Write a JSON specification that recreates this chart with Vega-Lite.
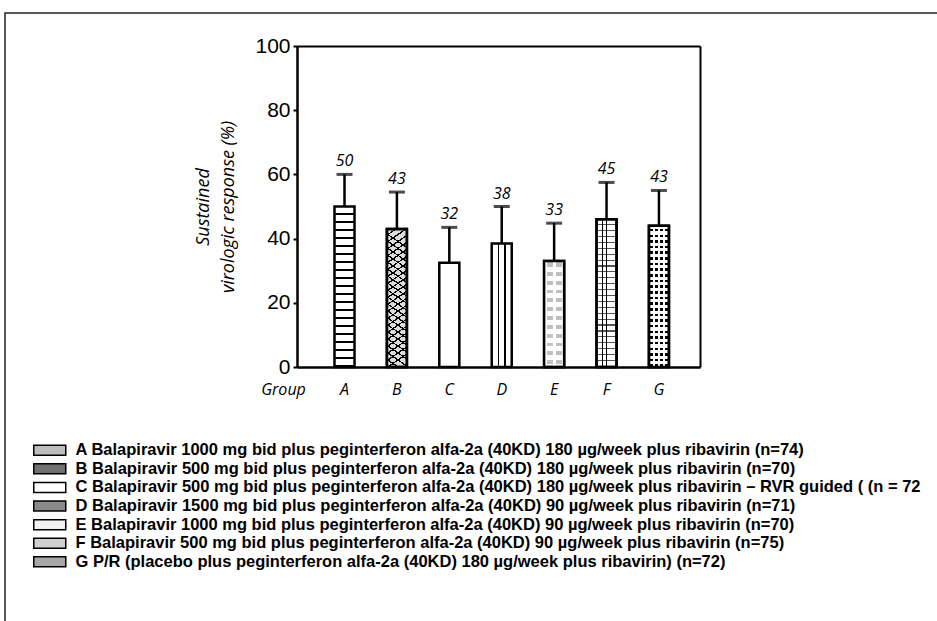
{
  "$schema": "https://vega.github.io/schema/vega-lite/v6.json",
  "width": 940,
  "height": 620,
  "autosize": "none",
  "padding": {"left": 5, "top": 13, "right": 0, "bottom": 0},
  "background": "white",
  "config": {
    "view": {"stroke": "#222222", "strokeWidth": 1.5},
    "axis": {"grid": false}
  },
  "data": {
    "values": [
      {"group": "A", "svr": 50, "bar": 50, "upper": 60, "legend": "A Balapiravir 1000 mg bid plus peginterferon alfa-2a (40KD) 180 µg/week plus ribavirin (n=74)"},
      {"group": "B", "svr": 43, "bar": 43, "upper": 54.5, "legend": "B Balapiravir 500 mg bid plus peginterferon alfa-2a (40KD) 180 µg/week plus ribavirin (n=70)"},
      {"group": "C", "svr": 32, "bar": 32.5, "upper": 43.5, "legend": "C Balapiravir 500 mg bid plus peginterferon alfa-2a (40KD) 180 µg/week plus ribavirin – RVR guided ( (n = 72"},
      {"group": "D", "svr": 38, "bar": 38.5, "upper": 50, "legend": "D Balapiravir 1500 mg bid plus peginterferon alfa-2a (40KD) 90 µg/week plus ribavirin (n=71)"},
      {"group": "E", "svr": 33, "bar": 33, "upper": 44.8, "legend": "E Balapiravir 1000 mg bid plus peginterferon alfa-2a (40KD) 90 µg/week plus ribavirin (n=70)"},
      {"group": "F", "svr": 45, "bar": 46, "upper": 57.5, "legend": "F Balapiravir 500 mg bid plus peginterferon alfa-2a (40KD) 90 µg/week plus ribavirin (n=75)"},
      {"group": "G", "svr": 43, "bar": 44, "upper": 55, "legend": "G P/R (placebo plus peginterferon alfa-2a (40KD) 180 µg/week plus ribavirin) (n=72)"}
    ]
  },
  "layer": [
    {
      "mark": {"type": "bar", "stroke": "black", "strokeWidth": 2.5},
      "encoding": {
        "x": {
          "field": "group", "type": "nominal", "sort": null,
          "scale": {"domain": ["A", "B", "C", "D", "E", "F", "G"], "range": [292, 695], "paddingInner": 0.618, "paddingOuter": 0.654, "align": 0.547, "round": false},
          "axis": {"orient": "bottom", "offset": -266, "domainColor": "black", "domainWidth": 2.5, "ticks": false, "labelAngle": 0, "labelFont": "Open Sans", "labelFontStyle": "italic", "labelFontSize": 16, "labelColor": "black", "labelBaseline": "alphabetic", "labelPadding": 27, "title": "Group", "titleFont": "Open Sans", "titleFontStyle": "italic", "titleFontWeight": "normal", "titleFontSize": 16, "titleX": 278, "titleY": 27, "titleAlign": "center", "titleBaseline": "alphabetic", "titleColor": "black"}
        },
        "y": {
          "field": "bar", "type": "quantitative",
          "scale": {"domain": [0, 100], "range": [354, 33], "nice": false, "zero": true},
          "axis": {"orient": "left", "offset": -292, "values": [0, 20, 40, 60, 80, 100], "grid": false, "domainColor": "black", "domainWidth": 2.5, "tickColor": "black", "tickWidth": 2, "tickSize": 4, "labelPadding": 3, "labelFont": "Liberation Sans", "labelFontSize": 21, "labelColor": "black", "title": ["Sustained", "virologic response (%)"], "titleFont": "Open Sans", "titleFontStyle": "italic", "titleFontWeight": "normal", "titleFontSize": 18, "titleLineHeight": 25, "titlePadding": 17, "titleColor": "black"}
        },
        "fill": {
          "field": "legend", "type": "nominal", "sort": null,
          "scale": {"range": ["#bdbdbd", "#707070", "#ffffff", "#8a8a8a", "#f2f2f2", "#cfcfcf", "#a8a8a8"]},
          "legend": {
            "orient": "none", "legendX": 36.5, "legendY": 429, "direction": "vertical", "title": null,
            "symbolType": "M-4,-1.25H4V1.25H-4Z", "symbolSize": 64, "symbolOpacity": 1,
            "labelFont": "Liberation Sans", "labelFontSize": 16.5, "labelFontWeight": "bold", "labelColor": "black", "labelLimit": 1000, "labelOffset": 17.5, "rowPadding": 1.6,
            "encode": {
              "symbols": {
                "update": {
                  "stroke": {"value": "black"},
                  "strokeWidth": {"value": 1.5}
                }
              }
            }
          },
          "condition": [
            {"test": "datum.group === 'A'", "value": {"gradient": "linear", "x1": 0, "y1": 0, "x2": 0, "y2": 1, "stops": [
              {"offset": 0, "color": "#ffffff"}, {"offset": 0.039, "color": "#ffffff"}, {"offset": 0.039, "color": "#000000"}, {"offset": 0.05, "color": "#000000"},
              {"offset": 0.05, "color": "#ffffff"}, {"offset": 0.089, "color": "#ffffff"}, {"offset": 0.089, "color": "#000000"}, {"offset": 0.1, "color": "#000000"},
              {"offset": 0.1, "color": "#ffffff"}, {"offset": 0.139, "color": "#ffffff"}, {"offset": 0.139, "color": "#000000"}, {"offset": 0.15, "color": "#000000"},
              {"offset": 0.15, "color": "#ffffff"}, {"offset": 0.189, "color": "#ffffff"}, {"offset": 0.189, "color": "#000000"}, {"offset": 0.2, "color": "#000000"},
              {"offset": 0.2, "color": "#ffffff"}, {"offset": 0.239, "color": "#ffffff"}, {"offset": 0.239, "color": "#000000"}, {"offset": 0.25, "color": "#000000"},
              {"offset": 0.25, "color": "#ffffff"}, {"offset": 0.289, "color": "#ffffff"}, {"offset": 0.289, "color": "#000000"}, {"offset": 0.3, "color": "#000000"},
              {"offset": 0.3, "color": "#ffffff"}, {"offset": 0.339, "color": "#ffffff"}, {"offset": 0.339, "color": "#000000"}, {"offset": 0.35, "color": "#000000"},
              {"offset": 0.35, "color": "#ffffff"}, {"offset": 0.389, "color": "#ffffff"}, {"offset": 0.389, "color": "#000000"}, {"offset": 0.4, "color": "#000000"},
              {"offset": 0.4, "color": "#ffffff"}, {"offset": 0.439, "color": "#ffffff"}, {"offset": 0.439, "color": "#000000"}, {"offset": 0.45, "color": "#000000"},
              {"offset": 0.45, "color": "#ffffff"}, {"offset": 0.489, "color": "#ffffff"}, {"offset": 0.489, "color": "#000000"}, {"offset": 0.5, "color": "#000000"},
              {"offset": 0.5, "color": "#ffffff"}, {"offset": 0.539, "color": "#ffffff"}, {"offset": 0.539, "color": "#000000"}, {"offset": 0.55, "color": "#000000"},
              {"offset": 0.55, "color": "#ffffff"}, {"offset": 0.589, "color": "#ffffff"}, {"offset": 0.589, "color": "#000000"}, {"offset": 0.6, "color": "#000000"},
              {"offset": 0.6, "color": "#ffffff"}, {"offset": 0.639, "color": "#ffffff"}, {"offset": 0.639, "color": "#000000"}, {"offset": 0.65, "color": "#000000"},
              {"offset": 0.65, "color": "#ffffff"}, {"offset": 0.689, "color": "#ffffff"}, {"offset": 0.689, "color": "#000000"}, {"offset": 0.7, "color": "#000000"},
              {"offset": 0.7, "color": "#ffffff"}, {"offset": 0.739, "color": "#ffffff"}, {"offset": 0.739, "color": "#000000"}, {"offset": 0.75, "color": "#000000"},
              {"offset": 0.75, "color": "#ffffff"}, {"offset": 0.789, "color": "#ffffff"}, {"offset": 0.789, "color": "#000000"}, {"offset": 0.8, "color": "#000000"},
              {"offset": 0.8, "color": "#ffffff"}, {"offset": 0.839, "color": "#ffffff"}, {"offset": 0.839, "color": "#000000"}, {"offset": 0.85, "color": "#000000"},
              {"offset": 0.85, "color": "#ffffff"}, {"offset": 0.889, "color": "#ffffff"}, {"offset": 0.889, "color": "#000000"}, {"offset": 0.9, "color": "#000000"},
              {"offset": 0.9, "color": "#ffffff"}, {"offset": 0.939, "color": "#ffffff"}, {"offset": 0.939, "color": "#000000"}, {"offset": 0.95, "color": "#000000"},
              {"offset": 0.95, "color": "#ffffff"}, {"offset": 0.989, "color": "#ffffff"}, {"offset": 0.989, "color": "#000000"}, {"offset": 1, "color": "#000000"}]}},
            {"test": "datum.group === 'B'", "value": {"gradient": "linear", "x1": 0, "y1": 0, "x2": 0.1, "y2": 1, "stops": [
              {"offset": 0, "color": "#dcdcdc"}, {"offset": 0.039, "color": "#dcdcdc"}, {"offset": 0.039, "color": "#000000"}, {"offset": 0.05, "color": "#000000"},
              {"offset": 0.05, "color": "#dcdcdc"}, {"offset": 0.089, "color": "#dcdcdc"}, {"offset": 0.089, "color": "#000000"}, {"offset": 0.1, "color": "#000000"},
              {"offset": 0.1, "color": "#dcdcdc"}, {"offset": 0.139, "color": "#dcdcdc"}, {"offset": 0.139, "color": "#000000"}, {"offset": 0.15, "color": "#000000"},
              {"offset": 0.15, "color": "#dcdcdc"}, {"offset": 0.189, "color": "#dcdcdc"}, {"offset": 0.189, "color": "#000000"}, {"offset": 0.2, "color": "#000000"},
              {"offset": 0.2, "color": "#dcdcdc"}, {"offset": 0.239, "color": "#dcdcdc"}, {"offset": 0.239, "color": "#000000"}, {"offset": 0.25, "color": "#000000"},
              {"offset": 0.25, "color": "#dcdcdc"}, {"offset": 0.289, "color": "#dcdcdc"}, {"offset": 0.289, "color": "#000000"}, {"offset": 0.3, "color": "#000000"},
              {"offset": 0.3, "color": "#dcdcdc"}, {"offset": 0.339, "color": "#dcdcdc"}, {"offset": 0.339, "color": "#000000"}, {"offset": 0.35, "color": "#000000"},
              {"offset": 0.35, "color": "#dcdcdc"}, {"offset": 0.389, "color": "#dcdcdc"}, {"offset": 0.389, "color": "#000000"}, {"offset": 0.4, "color": "#000000"},
              {"offset": 0.4, "color": "#dcdcdc"}, {"offset": 0.439, "color": "#dcdcdc"}, {"offset": 0.439, "color": "#000000"}, {"offset": 0.45, "color": "#000000"},
              {"offset": 0.45, "color": "#dcdcdc"}, {"offset": 0.489, "color": "#dcdcdc"}, {"offset": 0.489, "color": "#000000"}, {"offset": 0.5, "color": "#000000"},
              {"offset": 0.5, "color": "#dcdcdc"}, {"offset": 0.539, "color": "#dcdcdc"}, {"offset": 0.539, "color": "#000000"}, {"offset": 0.55, "color": "#000000"},
              {"offset": 0.55, "color": "#dcdcdc"}, {"offset": 0.589, "color": "#dcdcdc"}, {"offset": 0.589, "color": "#000000"}, {"offset": 0.6, "color": "#000000"},
              {"offset": 0.6, "color": "#dcdcdc"}, {"offset": 0.639, "color": "#dcdcdc"}, {"offset": 0.639, "color": "#000000"}, {"offset": 0.65, "color": "#000000"},
              {"offset": 0.65, "color": "#dcdcdc"}, {"offset": 0.689, "color": "#dcdcdc"}, {"offset": 0.689, "color": "#000000"}, {"offset": 0.7, "color": "#000000"},
              {"offset": 0.7, "color": "#dcdcdc"}, {"offset": 0.739, "color": "#dcdcdc"}, {"offset": 0.739, "color": "#000000"}, {"offset": 0.75, "color": "#000000"},
              {"offset": 0.75, "color": "#dcdcdc"}, {"offset": 0.789, "color": "#dcdcdc"}, {"offset": 0.789, "color": "#000000"}, {"offset": 0.8, "color": "#000000"},
              {"offset": 0.8, "color": "#dcdcdc"}, {"offset": 0.839, "color": "#dcdcdc"}, {"offset": 0.839, "color": "#000000"}, {"offset": 0.85, "color": "#000000"},
              {"offset": 0.85, "color": "#dcdcdc"}, {"offset": 0.889, "color": "#dcdcdc"}, {"offset": 0.889, "color": "#000000"}, {"offset": 0.9, "color": "#000000"},
              {"offset": 0.9, "color": "#dcdcdc"}, {"offset": 0.939, "color": "#dcdcdc"}, {"offset": 0.939, "color": "#000000"}, {"offset": 0.95, "color": "#000000"},
              {"offset": 0.95, "color": "#dcdcdc"}, {"offset": 0.989, "color": "#dcdcdc"}, {"offset": 0.989, "color": "#000000"}, {"offset": 1, "color": "#000000"},
              {"offset": 1, "color": "#dcdcdc"}]}},
            {"test": "datum.group === 'C'", "value": "#ffffff"},
            {"test": "datum.group === 'D'", "value": {"gradient": "linear", "x1": 0, "y1": 0, "x2": 1, "y2": 0, "stops": [
              {"offset": 0, "color": "#ffffff"}, {"offset": 0.31, "color": "#ffffff"}, {"offset": 0.31, "color": "#000000"}, {"offset": 0.37, "color": "#000000"},
              {"offset": 0.37, "color": "#ffffff"}, {"offset": 0.63, "color": "#ffffff"}, {"offset": 0.63, "color": "#000000"}, {"offset": 0.69, "color": "#000000"},
              {"offset": 0.69, "color": "#ffffff"}, {"offset": 1, "color": "#ffffff"}]}},
            {"test": "datum.group === 'E'", "value": {"gradient": "linear", "x1": 0, "y1": 0, "x2": 0, "y2": 1, "stops": [
              {"offset": 0, "color": "#ffffff"}, {"offset": 0.02, "color": "#ffffff"}, {"offset": 0.02, "color": "#c0c0c0"}, {"offset": 0.055, "color": "#c0c0c0"},
              {"offset": 0.055, "color": "#ffffff"}, {"offset": 0.1033, "color": "#ffffff"}, {"offset": 0.1033, "color": "#c0c0c0"}, {"offset": 0.1383, "color": "#c0c0c0"},
              {"offset": 0.1383, "color": "#ffffff"}, {"offset": 0.1867, "color": "#ffffff"}, {"offset": 0.1867, "color": "#c0c0c0"}, {"offset": 0.2217, "color": "#c0c0c0"},
              {"offset": 0.2217, "color": "#ffffff"}, {"offset": 0.27, "color": "#ffffff"}, {"offset": 0.27, "color": "#c0c0c0"}, {"offset": 0.305, "color": "#c0c0c0"},
              {"offset": 0.305, "color": "#ffffff"}, {"offset": 0.3533, "color": "#ffffff"}, {"offset": 0.3533, "color": "#c0c0c0"}, {"offset": 0.3883, "color": "#c0c0c0"},
              {"offset": 0.3883, "color": "#ffffff"}, {"offset": 0.4367, "color": "#ffffff"}, {"offset": 0.4367, "color": "#c0c0c0"}, {"offset": 0.4717, "color": "#c0c0c0"},
              {"offset": 0.4717, "color": "#ffffff"}, {"offset": 0.52, "color": "#ffffff"}, {"offset": 0.52, "color": "#c0c0c0"}, {"offset": 0.555, "color": "#c0c0c0"},
              {"offset": 0.555, "color": "#ffffff"}, {"offset": 0.6033, "color": "#ffffff"}, {"offset": 0.6033, "color": "#c0c0c0"}, {"offset": 0.6383, "color": "#c0c0c0"},
              {"offset": 0.6383, "color": "#ffffff"}, {"offset": 0.6867, "color": "#ffffff"}, {"offset": 0.6867, "color": "#c0c0c0"}, {"offset": 0.7217, "color": "#c0c0c0"},
              {"offset": 0.7217, "color": "#ffffff"}, {"offset": 0.77, "color": "#ffffff"}, {"offset": 0.77, "color": "#c0c0c0"}, {"offset": 0.805, "color": "#c0c0c0"},
              {"offset": 0.805, "color": "#ffffff"}, {"offset": 0.8533, "color": "#ffffff"}, {"offset": 0.8533, "color": "#c0c0c0"}, {"offset": 0.8883, "color": "#c0c0c0"},
              {"offset": 0.8883, "color": "#ffffff"}, {"offset": 0.9367, "color": "#ffffff"}, {"offset": 0.9367, "color": "#c0c0c0"}, {"offset": 0.9717, "color": "#c0c0c0"},
              {"offset": 0.9717, "color": "#ffffff"}, {"offset": 1, "color": "#ffffff"}]}},
            {"test": "datum.group === 'F'", "value": {"gradient": "linear", "x1": 0, "y1": 0, "x2": 0, "y2": 1, "stops": [
              {"offset": 0, "color": "#ffffff"}, {"offset": 0.032, "color": "#ffffff"}, {"offset": 0.032, "color": "#555555"}, {"offset": 0.04, "color": "#555555"},
              {"offset": 0.04, "color": "#ffffff"}, {"offset": 0.072, "color": "#ffffff"}, {"offset": 0.072, "color": "#555555"}, {"offset": 0.08, "color": "#555555"},
              {"offset": 0.08, "color": "#ffffff"}, {"offset": 0.112, "color": "#ffffff"}, {"offset": 0.112, "color": "#555555"}, {"offset": 0.12, "color": "#555555"},
              {"offset": 0.12, "color": "#ffffff"}, {"offset": 0.152, "color": "#ffffff"}, {"offset": 0.152, "color": "#555555"}, {"offset": 0.16, "color": "#555555"},
              {"offset": 0.16, "color": "#ffffff"}, {"offset": 0.192, "color": "#ffffff"}, {"offset": 0.192, "color": "#555555"}, {"offset": 0.2, "color": "#555555"},
              {"offset": 0.2, "color": "#ffffff"}, {"offset": 0.232, "color": "#ffffff"}, {"offset": 0.232, "color": "#555555"}, {"offset": 0.24, "color": "#555555"},
              {"offset": 0.24, "color": "#ffffff"}, {"offset": 0.272, "color": "#ffffff"}, {"offset": 0.272, "color": "#555555"}, {"offset": 0.28, "color": "#555555"},
              {"offset": 0.28, "color": "#ffffff"}, {"offset": 0.312, "color": "#ffffff"}, {"offset": 0.312, "color": "#555555"}, {"offset": 0.32, "color": "#555555"},
              {"offset": 0.32, "color": "#ffffff"}, {"offset": 0.352, "color": "#ffffff"}, {"offset": 0.352, "color": "#555555"}, {"offset": 0.36, "color": "#555555"},
              {"offset": 0.36, "color": "#ffffff"}, {"offset": 0.392, "color": "#ffffff"}, {"offset": 0.392, "color": "#555555"}, {"offset": 0.4, "color": "#555555"},
              {"offset": 0.4, "color": "#ffffff"}, {"offset": 0.432, "color": "#ffffff"}, {"offset": 0.432, "color": "#555555"}, {"offset": 0.44, "color": "#555555"},
              {"offset": 0.44, "color": "#ffffff"}, {"offset": 0.472, "color": "#ffffff"}, {"offset": 0.472, "color": "#555555"}, {"offset": 0.48, "color": "#555555"},
              {"offset": 0.48, "color": "#ffffff"}, {"offset": 0.512, "color": "#ffffff"}, {"offset": 0.512, "color": "#555555"}, {"offset": 0.52, "color": "#555555"},
              {"offset": 0.52, "color": "#ffffff"}, {"offset": 0.552, "color": "#ffffff"}, {"offset": 0.552, "color": "#555555"}, {"offset": 0.56, "color": "#555555"},
              {"offset": 0.56, "color": "#ffffff"}, {"offset": 0.592, "color": "#ffffff"}, {"offset": 0.592, "color": "#555555"}, {"offset": 0.6, "color": "#555555"},
              {"offset": 0.6, "color": "#ffffff"}, {"offset": 0.632, "color": "#ffffff"}, {"offset": 0.632, "color": "#555555"}, {"offset": 0.64, "color": "#555555"},
              {"offset": 0.64, "color": "#ffffff"}, {"offset": 0.672, "color": "#ffffff"}, {"offset": 0.672, "color": "#555555"}, {"offset": 0.68, "color": "#555555"},
              {"offset": 0.68, "color": "#ffffff"}, {"offset": 0.712, "color": "#ffffff"}, {"offset": 0.712, "color": "#555555"}, {"offset": 0.72, "color": "#555555"},
              {"offset": 0.72, "color": "#ffffff"}, {"offset": 0.752, "color": "#ffffff"}, {"offset": 0.752, "color": "#555555"}, {"offset": 0.76, "color": "#555555"},
              {"offset": 0.76, "color": "#ffffff"}, {"offset": 0.792, "color": "#ffffff"}, {"offset": 0.792, "color": "#555555"}, {"offset": 0.8, "color": "#555555"},
              {"offset": 0.8, "color": "#ffffff"}, {"offset": 0.832, "color": "#ffffff"}, {"offset": 0.832, "color": "#555555"}, {"offset": 0.84, "color": "#555555"},
              {"offset": 0.84, "color": "#ffffff"}, {"offset": 0.872, "color": "#ffffff"}, {"offset": 0.872, "color": "#555555"}, {"offset": 0.88, "color": "#555555"},
              {"offset": 0.88, "color": "#ffffff"}, {"offset": 0.912, "color": "#ffffff"}, {"offset": 0.912, "color": "#555555"}, {"offset": 0.92, "color": "#555555"},
              {"offset": 0.92, "color": "#ffffff"}, {"offset": 0.952, "color": "#ffffff"}, {"offset": 0.952, "color": "#555555"}, {"offset": 0.96, "color": "#555555"},
              {"offset": 0.96, "color": "#ffffff"}, {"offset": 0.992, "color": "#ffffff"}, {"offset": 0.992, "color": "#555555"}, {"offset": 1, "color": "#555555"}]}},
            {"test": "datum.group === 'G'", "value": {"gradient": "linear", "x1": 0, "y1": 0, "x2": 0, "y2": 1, "stops": [
              {"offset": 0, "color": "#ffffff"}, {"offset": 0.022, "color": "#ffffff"}, {"offset": 0.022, "color": "#000000"}, {"offset": 0.04, "color": "#000000"},
              {"offset": 0.04, "color": "#ffffff"}, {"offset": 0.062, "color": "#ffffff"}, {"offset": 0.062, "color": "#000000"}, {"offset": 0.08, "color": "#000000"},
              {"offset": 0.08, "color": "#ffffff"}, {"offset": 0.102, "color": "#ffffff"}, {"offset": 0.102, "color": "#000000"}, {"offset": 0.12, "color": "#000000"},
              {"offset": 0.12, "color": "#ffffff"}, {"offset": 0.142, "color": "#ffffff"}, {"offset": 0.142, "color": "#000000"}, {"offset": 0.16, "color": "#000000"},
              {"offset": 0.16, "color": "#ffffff"}, {"offset": 0.182, "color": "#ffffff"}, {"offset": 0.182, "color": "#000000"}, {"offset": 0.2, "color": "#000000"},
              {"offset": 0.2, "color": "#ffffff"}, {"offset": 0.222, "color": "#ffffff"}, {"offset": 0.222, "color": "#000000"}, {"offset": 0.24, "color": "#000000"},
              {"offset": 0.24, "color": "#ffffff"}, {"offset": 0.262, "color": "#ffffff"}, {"offset": 0.262, "color": "#000000"}, {"offset": 0.28, "color": "#000000"},
              {"offset": 0.28, "color": "#ffffff"}, {"offset": 0.302, "color": "#ffffff"}, {"offset": 0.302, "color": "#000000"}, {"offset": 0.32, "color": "#000000"},
              {"offset": 0.32, "color": "#ffffff"}, {"offset": 0.342, "color": "#ffffff"}, {"offset": 0.342, "color": "#000000"}, {"offset": 0.36, "color": "#000000"},
              {"offset": 0.36, "color": "#ffffff"}, {"offset": 0.382, "color": "#ffffff"}, {"offset": 0.382, "color": "#000000"}, {"offset": 0.4, "color": "#000000"},
              {"offset": 0.4, "color": "#ffffff"}, {"offset": 0.422, "color": "#ffffff"}, {"offset": 0.422, "color": "#000000"}, {"offset": 0.44, "color": "#000000"},
              {"offset": 0.44, "color": "#ffffff"}, {"offset": 0.462, "color": "#ffffff"}, {"offset": 0.462, "color": "#000000"}, {"offset": 0.48, "color": "#000000"},
              {"offset": 0.48, "color": "#ffffff"}, {"offset": 0.502, "color": "#ffffff"}, {"offset": 0.502, "color": "#000000"}, {"offset": 0.52, "color": "#000000"},
              {"offset": 0.52, "color": "#ffffff"}, {"offset": 0.542, "color": "#ffffff"}, {"offset": 0.542, "color": "#000000"}, {"offset": 0.56, "color": "#000000"},
              {"offset": 0.56, "color": "#ffffff"}, {"offset": 0.582, "color": "#ffffff"}, {"offset": 0.582, "color": "#000000"}, {"offset": 0.6, "color": "#000000"},
              {"offset": 0.6, "color": "#ffffff"}, {"offset": 0.622, "color": "#ffffff"}, {"offset": 0.622, "color": "#000000"}, {"offset": 0.64, "color": "#000000"},
              {"offset": 0.64, "color": "#ffffff"}, {"offset": 0.662, "color": "#ffffff"}, {"offset": 0.662, "color": "#000000"}, {"offset": 0.68, "color": "#000000"},
              {"offset": 0.68, "color": "#ffffff"}, {"offset": 0.702, "color": "#ffffff"}, {"offset": 0.702, "color": "#000000"}, {"offset": 0.72, "color": "#000000"},
              {"offset": 0.72, "color": "#ffffff"}, {"offset": 0.742, "color": "#ffffff"}, {"offset": 0.742, "color": "#000000"}, {"offset": 0.76, "color": "#000000"},
              {"offset": 0.76, "color": "#ffffff"}, {"offset": 0.782, "color": "#ffffff"}, {"offset": 0.782, "color": "#000000"}, {"offset": 0.8, "color": "#000000"},
              {"offset": 0.8, "color": "#ffffff"}, {"offset": 0.822, "color": "#ffffff"}, {"offset": 0.822, "color": "#000000"}, {"offset": 0.84, "color": "#000000"},
              {"offset": 0.84, "color": "#ffffff"}, {"offset": 0.862, "color": "#ffffff"}, {"offset": 0.862, "color": "#000000"}, {"offset": 0.88, "color": "#000000"},
              {"offset": 0.88, "color": "#ffffff"}, {"offset": 0.902, "color": "#ffffff"}, {"offset": 0.902, "color": "#000000"}, {"offset": 0.92, "color": "#000000"},
              {"offset": 0.92, "color": "#ffffff"}, {"offset": 0.942, "color": "#ffffff"}, {"offset": 0.942, "color": "#000000"}, {"offset": 0.96, "color": "#000000"},
              {"offset": 0.96, "color": "#ffffff"}, {"offset": 0.982, "color": "#ffffff"}, {"offset": 0.982, "color": "#000000"}, {"offset": 1, "color": "#000000"}]}}
          ]
        }
      }
    },
    {
      "transform": [{"filter": "indexof(['B', 'E', 'F', 'G'], datum.group) >= 0"}],
      "mark": {"type": "bar", "stroke": "black", "strokeWidth": 2.5},
      "encoding": {
        "x": {"field": "group", "type": "nominal", "sort": null, "axis": {"orient": "top", "offset": -33, "labels": false, "ticks": false, "title": null, "domainColor": "black", "domainWidth": 2}},
        "y": {"field": "bar", "type": "quantitative", "axis": {"orient": "right", "offset": -245, "labels": false, "ticks": false, "grid": false, "title": null, "domainColor": "black", "domainWidth": 2}},
        "fill": {
          "condition": [
            {"test": "datum.group === 'B'", "value": {"gradient": "linear", "x1": 0.1, "y1": 0, "x2": 0, "y2": 1, "stops": [
              {"offset": 0, "color": "rgba(255,255,255,0)"}, {"offset": 0.039, "color": "rgba(255,255,255,0)"}, {"offset": 0.039, "color": "#000000"}, {"offset": 0.05, "color": "#000000"},
              {"offset": 0.05, "color": "rgba(255,255,255,0)"}, {"offset": 0.089, "color": "rgba(255,255,255,0)"}, {"offset": 0.089, "color": "#000000"}, {"offset": 0.1, "color": "#000000"},
              {"offset": 0.1, "color": "rgba(255,255,255,0)"}, {"offset": 0.139, "color": "rgba(255,255,255,0)"}, {"offset": 0.139, "color": "#000000"}, {"offset": 0.15, "color": "#000000"},
              {"offset": 0.15, "color": "rgba(255,255,255,0)"}, {"offset": 0.189, "color": "rgba(255,255,255,0)"}, {"offset": 0.189, "color": "#000000"}, {"offset": 0.2, "color": "#000000"},
              {"offset": 0.2, "color": "rgba(255,255,255,0)"}, {"offset": 0.239, "color": "rgba(255,255,255,0)"}, {"offset": 0.239, "color": "#000000"}, {"offset": 0.25, "color": "#000000"},
              {"offset": 0.25, "color": "rgba(255,255,255,0)"}, {"offset": 0.289, "color": "rgba(255,255,255,0)"}, {"offset": 0.289, "color": "#000000"}, {"offset": 0.3, "color": "#000000"},
              {"offset": 0.3, "color": "rgba(255,255,255,0)"}, {"offset": 0.339, "color": "rgba(255,255,255,0)"}, {"offset": 0.339, "color": "#000000"}, {"offset": 0.35, "color": "#000000"},
              {"offset": 0.35, "color": "rgba(255,255,255,0)"}, {"offset": 0.389, "color": "rgba(255,255,255,0)"}, {"offset": 0.389, "color": "#000000"}, {"offset": 0.4, "color": "#000000"},
              {"offset": 0.4, "color": "rgba(255,255,255,0)"}, {"offset": 0.439, "color": "rgba(255,255,255,0)"}, {"offset": 0.439, "color": "#000000"}, {"offset": 0.45, "color": "#000000"},
              {"offset": 0.45, "color": "rgba(255,255,255,0)"}, {"offset": 0.489, "color": "rgba(255,255,255,0)"}, {"offset": 0.489, "color": "#000000"}, {"offset": 0.5, "color": "#000000"},
              {"offset": 0.5, "color": "rgba(255,255,255,0)"}, {"offset": 0.539, "color": "rgba(255,255,255,0)"}, {"offset": 0.539, "color": "#000000"}, {"offset": 0.55, "color": "#000000"},
              {"offset": 0.55, "color": "rgba(255,255,255,0)"}, {"offset": 0.589, "color": "rgba(255,255,255,0)"}, {"offset": 0.589, "color": "#000000"}, {"offset": 0.6, "color": "#000000"},
              {"offset": 0.6, "color": "rgba(255,255,255,0)"}, {"offset": 0.639, "color": "rgba(255,255,255,0)"}, {"offset": 0.639, "color": "#000000"}, {"offset": 0.65, "color": "#000000"},
              {"offset": 0.65, "color": "rgba(255,255,255,0)"}, {"offset": 0.689, "color": "rgba(255,255,255,0)"}, {"offset": 0.689, "color": "#000000"}, {"offset": 0.7, "color": "#000000"},
              {"offset": 0.7, "color": "rgba(255,255,255,0)"}, {"offset": 0.739, "color": "rgba(255,255,255,0)"}, {"offset": 0.739, "color": "#000000"}, {"offset": 0.75, "color": "#000000"},
              {"offset": 0.75, "color": "rgba(255,255,255,0)"}, {"offset": 0.789, "color": "rgba(255,255,255,0)"}, {"offset": 0.789, "color": "#000000"}, {"offset": 0.8, "color": "#000000"},
              {"offset": 0.8, "color": "rgba(255,255,255,0)"}, {"offset": 0.839, "color": "rgba(255,255,255,0)"}, {"offset": 0.839, "color": "#000000"}, {"offset": 0.85, "color": "#000000"},
              {"offset": 0.85, "color": "rgba(255,255,255,0)"}, {"offset": 0.889, "color": "rgba(255,255,255,0)"}, {"offset": 0.889, "color": "#000000"}, {"offset": 0.9, "color": "#000000"},
              {"offset": 0.9, "color": "rgba(255,255,255,0)"}, {"offset": 0.939, "color": "rgba(255,255,255,0)"}, {"offset": 0.939, "color": "#000000"}, {"offset": 0.95, "color": "#000000"},
              {"offset": 0.95, "color": "rgba(255,255,255,0)"}, {"offset": 0.989, "color": "rgba(255,255,255,0)"}, {"offset": 0.989, "color": "#000000"}, {"offset": 1, "color": "#000000"},
              {"offset": 1, "color": "rgba(255,255,255,0)"}]}},
            {"test": "datum.group === 'E'", "value": {"gradient": "linear", "x1": 0, "y1": 0, "x2": 1, "y2": 0, "stops": [
              {"offset": 0, "color": "#ffffff"}, {"offset": 0.12, "color": "#ffffff"}, {"offset": 0.12, "color": "rgba(255,255,255,0)"}, {"offset": 0.42, "color": "rgba(255,255,255,0)"},
              {"offset": 0.42, "color": "#ffffff"}, {"offset": 0.58, "color": "#ffffff"}, {"offset": 0.58, "color": "rgba(255,255,255,0)"}, {"offset": 0.88, "color": "rgba(255,255,255,0)"},
              {"offset": 0.88, "color": "#ffffff"}, {"offset": 1, "color": "#ffffff"}]}},
            {"test": "datum.group === 'F'", "value": {"gradient": "linear", "x1": 0, "y1": 0, "x2": 1, "y2": 0, "stops": [
              {"offset": 0, "color": "rgba(255,255,255,0)"}, {"offset": 0.28, "color": "rgba(255,255,255,0)"}, {"offset": 0.28, "color": "#000000"}, {"offset": 0.33, "color": "#000000"},
              {"offset": 0.33, "color": "rgba(255,255,255,0)"}, {"offset": 0.45, "color": "rgba(255,255,255,0)"}, {"offset": 0.45, "color": "#000000"}, {"offset": 0.5, "color": "#000000"},
              {"offset": 0.5, "color": "rgba(255,255,255,0)"}, {"offset": 1, "color": "rgba(255,255,255,0)"}]}},
            {"test": "datum.group === 'G'", "value": {"gradient": "linear", "x1": 0, "y1": 0, "x2": 1, "y2": 0, "stops": [
              {"offset": 0, "color": "#ffffff"}, {"offset": 0.055, "color": "#ffffff"}, {"offset": 0.055, "color": "rgba(255,255,255,0)"}, {"offset": 0.195, "color": "rgba(255,255,255,0)"},
              {"offset": 0.195, "color": "#ffffff"}, {"offset": 0.305, "color": "#ffffff"}, {"offset": 0.305, "color": "rgba(255,255,255,0)"}, {"offset": 0.445, "color": "rgba(255,255,255,0)"},
              {"offset": 0.445, "color": "#ffffff"}, {"offset": 0.555, "color": "#ffffff"}, {"offset": 0.555, "color": "rgba(255,255,255,0)"}, {"offset": 0.695, "color": "rgba(255,255,255,0)"},
              {"offset": 0.695, "color": "#ffffff"}, {"offset": 0.805, "color": "#ffffff"}, {"offset": 0.805, "color": "rgba(255,255,255,0)"}, {"offset": 0.945, "color": "rgba(255,255,255,0)"},
              {"offset": 0.945, "color": "#ffffff"}, {"offset": 1, "color": "#ffffff"}]}}
          ],
          "value": "rgba(255,255,255,0)"
        }
      }
    },
    {
      "mark": {"type": "rule", "stroke": "black", "strokeWidth": 2.5},
      "encoding": {
        "x": {"field": "group", "type": "nominal", "sort": null, "axis": null},
        "y": {"field": "bar", "type": "quantitative", "axis": null},
        "y2": {"field": "upper"}
      }
    },
    {
      "mark": {"type": "tick", "color": "black", "thickness": 3, "size": 16, "orient": "horizontal"},
      "encoding": {
        "x": {"field": "group", "type": "nominal", "sort": null, "axis": null},
        "y": {"field": "upper", "type": "quantitative", "axis": null}
      }
    },
    {
      "mark": {"type": "text", "font": "Open Sans", "fontStyle": "italic", "fontSize": 16, "baseline": "alphabetic", "dy": -8, "color": "black"},
      "encoding": {
        "x": {"field": "group", "type": "nominal", "sort": null, "axis": null},
        "y": {"field": "upper", "type": "quantitative", "axis": null},
        "text": {"field": "svr", "type": "quantitative"}
      }
    }
  ],
  "resolve": {"axis": {"x": "independent", "y": "independent"}}
}
